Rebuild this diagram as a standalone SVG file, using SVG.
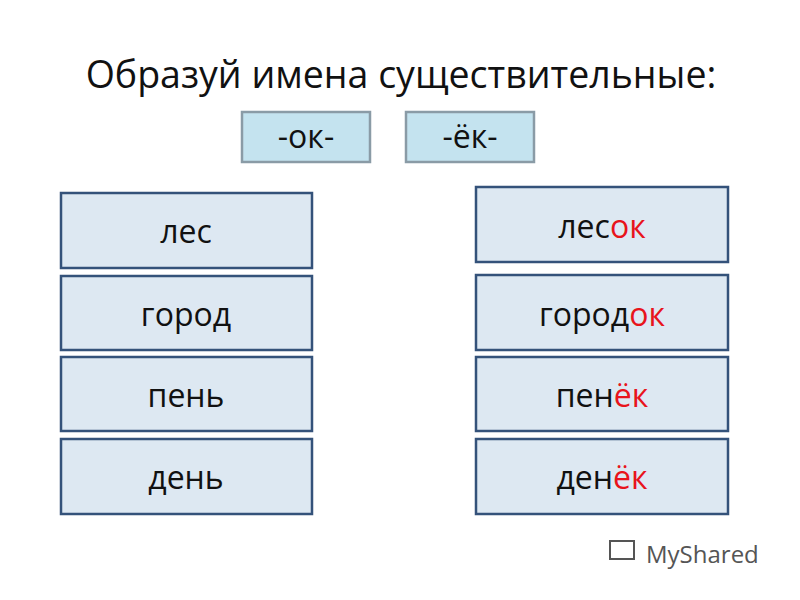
<svg xmlns="http://www.w3.org/2000/svg" width="800" height="600" viewBox="0 0 800 600">
<style>
text{font-family:"Open Sans","Liberation Sans",sans-serif;fill:#111}
.w{font-size:32px;text-anchor:middle}
.b{fill:#dde8f2;stroke:#34527a;stroke-width:2.5}
.t{fill:#c4e3ef;stroke:#8a9ba6;stroke-width:2.5}
.r{fill:#e8141c}
</style>
<rect width="800" height="600" fill="#fff"/>
<text x="401" y="88" font-size="37.5" text-anchor="middle">Образуй имена существительные:</text>
<g id="suffix-ok"><rect class="t" x="242" y="112" width="128" height="50"/><text class="w" x="306" y="148">-ок-</text></g>
<g id="suffix-yok"><rect class="t" x="406" y="112" width="128" height="50"/><text class="w" x="470" y="148">-ёк-</text></g>
<g id="les"><rect class="b" x="61" y="193" width="251" height="75"/><text class="w" x="186" y="243">лес</text></g>
<g id="gorod"><rect class="b" x="61" y="276" width="251" height="74"/><text class="w" x="186" y="326">город</text></g>
<g id="pen"><rect class="b" x="61" y="357" width="251" height="74"/><text class="w" x="186" y="407">пень</text></g>
<g id="den"><rect class="b" x="61" y="439" width="251" height="75"/><text class="w" x="186" y="489">день</text></g>
<g id="lesok"><rect class="b" x="476" y="187" width="252" height="75"/><text class="w" x="602" y="238">лес<tspan class="r">ок</tspan></text></g>
<g id="gorodok"><rect class="b" x="476" y="275" width="252" height="75"/><text class="w" x="602" y="326">город<tspan class="r">ок</tspan></text></g>
<g id="penyok"><rect class="b" x="476" y="357" width="252" height="74"/><text class="w" x="602" y="407">пен<tspan class="r">ёк</tspan></text></g>
<g id="denyok"><rect class="b" x="476" y="439" width="252" height="75"/><text class="w" x="602" y="489">ден<tspan class="r">ёк</tspan></text></g>
<g id="connectors"/>
<g id="watermark"><rect x="610" y="541" width="24" height="18" fill="none" stroke="#555" stroke-width="2"/><text x="646" y="563" font-size="24" style="fill:#555">MyShared</text></g>
</svg>
